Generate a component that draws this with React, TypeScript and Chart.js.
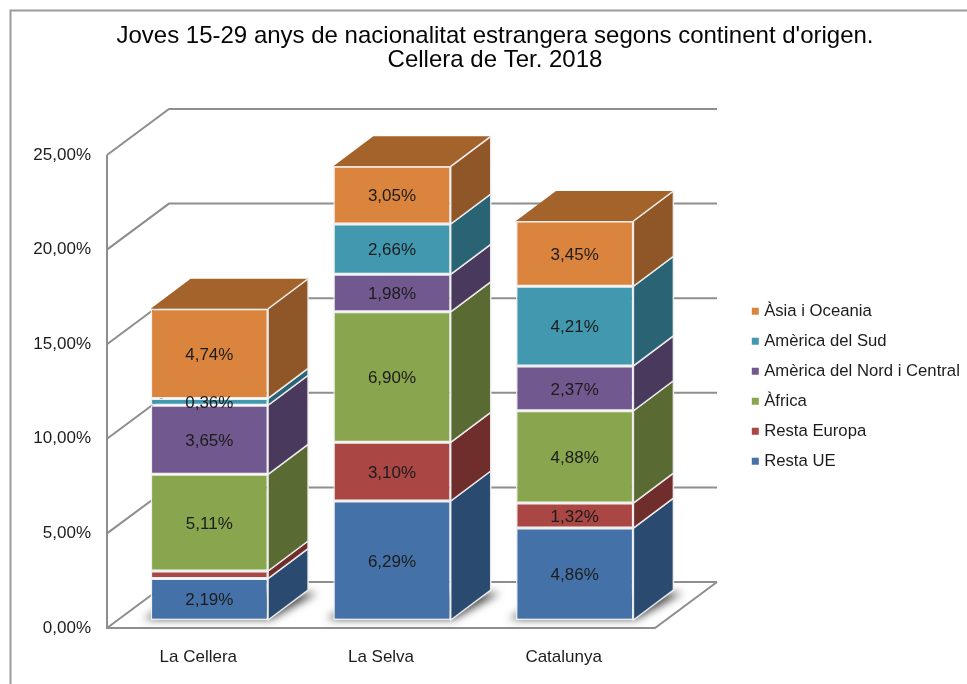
import React, { useEffect, useRef } from "react";
import { Chart, registerables } from "chart.js";

Chart.register(...registerables);

const categories = ["La Cellera", "La Selva", "Catalunya"];
const restaUE = [2.19, 6.29, 4.86];
const restaEuropa = [0.4, 3.1, 1.32];
const africa = [5.11, 6.9, 4.88];
const nordCentral = [3.65, 1.98, 2.37];
const sud = [0.36, 2.66, 4.21];
const asia = [4.74, 3.05, 3.45];
const titleLines = [
  "Joves 15-29 anys de nacionalitat estrangera segons continent d'origen.",
  "Cellera de Ter. 2018",
];
// Segments the original leaves without a value label: [dataset, category]
const unlabeled = [[1, 0]];

const FONT = "'Liberation Sans', Arial, sans-serif";
const fmt = (v: number) => v.toFixed(2).replace(".", ",") + "%";
const WALL = { dx: 62, dy: -46 };
const BAR_PLANE = { dx: 11, dy: -8 };
const BAR_DEPTH = { dx: 40, dy: -30 };
const GRID = "#8e8e8e";
const EDGE = "rgba(238,238,238,0.95)";
const sideColors = ["#2a4a70", "#6f2d2b", "#596b33", "#49395d", "#2a6373", "#8f5628"];
const topColor = "#a5632c";

function poly(ctx: CanvasRenderingContext2D, pts: number[][]) {
  ctx.beginPath();
  pts.forEach((p, i) => (i ? ctx.lineTo(p[0], p[1]) : ctx.moveTo(p[0], p[1])));
  ctx.closePath();
}

const scene3d = {
  id: "scene3d",
  beforeDraw(chart: any) {
    const { ctx, width, height } = chart;
    ctx.save();
    ctx.fillStyle = "#fff";
    ctx.fillRect(0, 0, width, height);
    ctx.strokeStyle = "#9a9a9a";
    ctx.lineWidth = 2;
    ctx.beginPath();
    ctx.moveTo(10.5, height);
    ctx.lineTo(10.5, 10.5);
    ctx.lineTo(width, 10.5);
    ctx.stroke();
    ctx.restore();
  },
  afterLayout(chart: any) {
    const t = chart.titleBlock;
    t.left = 0;
    t.right = 990;
    const l = chart.legend;
    l.left = 741.5;
    l.right = 967;
    l.top = 289.5;
    l.bottom = 684;
  },
  beforeDatasetsDraw(chart: any) {
    const { ctx, chartArea: a, scales } = chart;
    ctx.save();
    ctx.strokeStyle = GRID;
    ctx.lineWidth = 2;
    ctx.lineJoin = "miter";
    scales.y.ticks.forEach((t: any) => {
      const y = scales.y.getPixelForValue(t.value);
      ctx.beginPath();
      ctx.moveTo(a.left, y);
      ctx.lineTo(a.left + WALL.dx, y + WALL.dy);
      ctx.lineTo(a.right + WALL.dx, y + WALL.dy);
      ctx.stroke();
    });
    ctx.beginPath();
    ctx.moveTo(a.left, a.top);
    ctx.lineTo(a.left, a.bottom);
    ctx.lineTo(a.right, a.bottom);
    ctx.lineTo(a.right + WALL.dx, a.bottom + WALL.dy);
    ctx.stroke();
    ctx.restore();

    // All bars sit inset in the depth of the floor
    ctx.save();
    ctx.translate(BAR_PLANE.dx, BAR_PLANE.dy);
    const d = BAR_DEPTH;
    const metas = chart.data.datasets.map((_: any, i: number) => chart.getDatasetMeta(i));
    // soft floor shadows: only the blur of an off-canvas shape reaches the chart
    metas[0].data.forEach((el: any) => {
      const l = el.x - el.width / 2;
      const r = el.x + el.width / 2;
      const far = 3000;
      ctx.save();
      ctx.shadowColor = "rgba(0,0,0,0.72)";
      ctx.shadowBlur = 9;
      ctx.shadowOffsetX = far;
      ctx.fillStyle = "#000";
      poly(ctx, [
        [l - 7 - far, el.base - 1],
        [r + 3 - far, el.base - 1],
        [r + d.dx + 9 - far, el.base + d.dy + 3],
        [l + d.dx - far, el.base + d.dy + 3],
      ]);
      ctx.fill();
      ctx.restore();
    });
    // side faces and top faces
    metas.forEach((meta: any, i: number) => {
      meta.data.forEach((el: any) => {
        const r = el.x + el.width / 2;
        ctx.fillStyle = sideColors[i];
        ctx.strokeStyle = EDGE;
        ctx.lineWidth = 1.5;
        poly(ctx, [
          [r, el.y],
          [r + d.dx, el.y + d.dy],
          [r + d.dx, el.base + d.dy],
          [r, el.base],
        ]);
        ctx.fill();
        ctx.stroke();
      });
    });
    metas[metas.length - 1].data.forEach((el: any) => {
      const l = el.x - el.width / 2;
      const r = el.x + el.width / 2;
      ctx.fillStyle = topColor;
      ctx.strokeStyle = EDGE;
      ctx.lineWidth = 1.5;
      poly(ctx, [
        [l, el.y],
        [l + d.dx, el.y + d.dy],
        [r + d.dx, el.y + d.dy],
        [r, el.y],
      ]);
      ctx.fill();
      ctx.beginPath();
      ctx.moveTo(r, el.y);
      ctx.lineTo(r + d.dx, el.y + d.dy);
      ctx.stroke();
    });
  },
  afterDatasetsDraw(chart: any) {
    const { ctx } = chart;
    ctx.font = `17px ${FONT}`;
    ctx.fillStyle = "#1c1c1c";
    ctx.textAlign = "center";
    ctx.textBaseline = "middle";
    chart.data.datasets.forEach((ds: any, i: number) => {
      chart.getDatasetMeta(i).data.forEach((el: any, j: number) => {
        if (unlabeled.some(([a, b]) => a === i && b === j)) return;
        ctx.fillText(fmt(ds.data[j]), el.x, (el.y + el.base) / 2 + 1.5);
      });
    });
    ctx.restore(); // the translate opened in beforeDatasetsDraw
  },
};

export default function App() {
  const ref = useRef<HTMLCanvasElement>(null);
  useEffect(() => {
    const mk = (label: string, data: number[], backgroundColor: string) => ({
      label,
      data,
      backgroundColor,
      borderColor: EDGE,
      borderWidth: 1.5,
      borderSkipped: false,
      categoryPercentage: 1,
      barPercentage: 0.643,
    });
    const chart = new Chart(ref.current!, {
      type: "bar",
      data: {
        labels: categories,
        datasets: [
          mk("Resta UE", restaUE, "#4472a8"),
          mk("Resta Europa", restaEuropa, "#aa4643"),
          mk("Àfrica", africa, "#89a54e"),
          mk("Amèrica del Nord i Central", nordCentral, "#71588f"),
          mk("Amèrica del Sud", sud, "#4198af"),
          mk("Àsia i Oceania", asia, "#db843d"),
        ],
      },
      options: {
        responsive: false,
        animation: false,
        layout: { padding: { left: 0, right: 312, top: 0, bottom: 0 } },
        plugins: {
          tooltip: { enabled: false },
          title: {
            display: true,
            text: titleLines,
            color: "#050505",
            font: { family: FONT, size: 24, weight: "normal", lineHeight: 1 },
            padding: { top: 24, bottom: 83 },
          },
          legend: {
            position: "chartArea",
            align: "start",
            reverse: true,
            labels: {
              color: "#1c1c1c",
              font: { family: FONT, size: 16.7 },
              usePointStyle: true,
              pointStyle: "rect",
              boxWidth: 1,
              boxHeight: 7,
              padding: 13.3,
              generateLabels: (c: any) =>
                Chart.defaults.plugins.legend.labels
                  .generateLabels(c)
                  .map((it: any) => ({ ...it, lineWidth: 0 })),
            },
          },
        },
        scales: {
          x: {
            stacked: true,
            afterFit: (s: any) => {
              s.height = 56;
            },
            grid: { display: false, drawTicks: false },
            border: { display: false },
            ticks: { color: "#1c1c1c", padding: 19, font: { family: FONT, size: 17 } },
          },
          y: {
            stacked: true,
            min: 0,
            max: 25,
            afterFit: (s: any) => {
              s.width = 107;
            },
            grid: { display: false, drawTicks: false },
            border: { display: false },
            ticks: {
              stepSize: 5,
              color: "#1c1c1c",
              padding: 16,
              font: { family: FONT, size: 17 },
              callback: (v: any) => fmt(Number(v)),
            },
          },
        },
      },
      plugins: [scene3d],
    } as any);
    return () => chart.destroy();
  }, []);
  return (
    <canvas
      ref={ref}
      width={967}
      height={684}
      style={{ position: "fixed", left: 0, top: 0, display: "block", filter: "blur(0.4px)" }}
    />
  );
}
